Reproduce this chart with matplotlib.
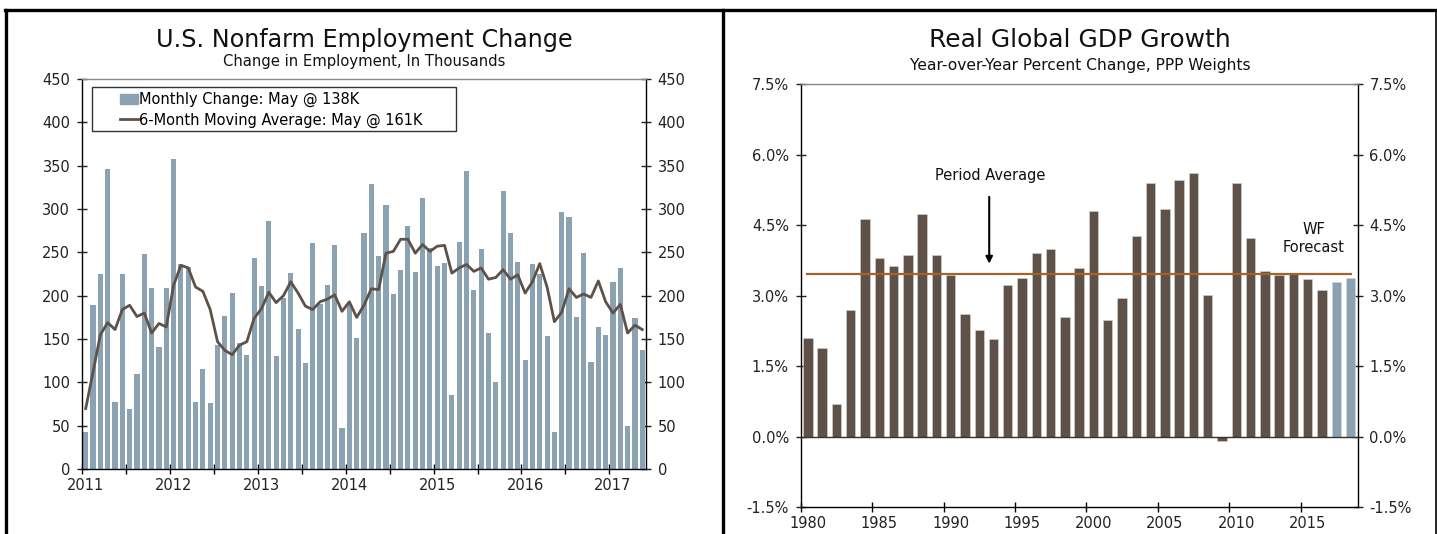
import matplotlib.pyplot as plt
from matplotlib.lines import Line2D
from matplotlib.patches import Rectangle, Patch
import numpy as np

# Monthly nonfarm payroll change, Jan 2011 - May 2017 (thousands)
payroll_change = [43, 189, 225, 346, 77, 225, 69, 110, 248, 209, 141, 209,
                  358, 237, 233, 78, 115, 76, 143, 177, 203, 146, 132, 244,
                  211, 286, 130, 197, 226, 162, 122, 261, 190, 212, 258, 47,
                  190, 151, 272, 329, 246, 304, 202, 230, 280, 227, 312, 255,
                  234, 238, 86, 262, 344, 206, 254, 157, 100, 321, 272, 239,
                  126, 237, 225, 153, 43, 297, 291, 176, 249, 124, 164, 155,
                  216, 232, 50, 174, 138]
payroll_6m_avg = [70, 112, 155, 169, 161, 184, 189, 176, 180, 157, 168, 164,
                  212, 235, 232, 210, 205, 184, 147, 137, 132, 143, 147, 174,
                  185, 204, 192, 200, 216, 203, 188, 184, 193, 196, 201, 182,
                  193, 175, 189, 208, 207, 249, 251, 265, 265, 249, 259, 251,
                  257, 258, 226, 232, 236, 228, 232, 219, 221, 230, 219, 224,
                  203, 216, 237, 210, 170, 181, 208, 198, 202, 198, 217, 193,
                  180, 190, 157, 166, 161]
payroll_years = ["2011", "2012", "2013", "2014", "2015", "2016", "2017"]

# Real global GDP growth, 1980 - 2018 (%), last two years are forecasts
gdp_years = list(range(1980, 2019))
gdp_growth = [2.11, 1.88, 0.69, 2.69, 4.64, 3.81, 3.64, 3.86, 4.74, 3.86,
              3.43, 2.62, 2.28, 2.07, 3.23, 3.38, 3.91, 4.00, 2.54, 3.59,
              4.81, 2.48, 2.96, 4.27, 5.40, 4.85, 5.45, 5.60, 3.01, -0.09,
              5.39, 4.22, 3.52, 3.43, 3.49, 3.35, 3.12, 3.29, 3.37]
gdp_forecast_from = 2017
period_average = 3.47

BLUE = "#8ba2b2"
BROWN = "#5e5248"
AVG_LINE = "#a5632b"
GRID_TOP = "#888888"

plt.rcParams["font.family"] = "DejaVu Sans"
plt.rcParams["font.size"] = 10.5

fig = plt.figure(figsize=(14.37, 5.34), dpi=100)


def style_axes(ax):
    for side in ("left", "right", "bottom"):
        ax.spines[side].set_color("black")
        ax.spines[side].set_linewidth(1.0)
    ax.spines["top"].set_color(GRID_TOP)
    ax.spines["top"].set_linewidth(1.0)
    ax.tick_params(axis="y", which="both", direction="inout", length=7,
                   width=1, left=True, right=True, labelleft=True,
                   labelright=True, pad=5, labelsize=10.5, colors="#222222")
    ax.tick_params(axis="x", which="major", direction="inout", length=7,
                   width=1, labelbottom=False)
    ax.tick_params(axis="x", which="minor", length=0, pad=6,
                   labelsize=10.5, colors="#222222")


# ---- left panel: payrolls ----
ax1 = fig.add_axes([0.0571, 0.1212, 0.3924, 0.7314])
n = len(payroll_change)
x = np.arange(n) + 0.5
ax1.bar(x, payroll_change, width=0.7, color=BLUE, linewidth=0, zorder=2)
ax1.plot(x, payroll_6m_avg, color=BROWN, lw=2.0, zorder=3)
ax1.set_xlim(0, n)
ax1.set_ylim(0, 450)
ax1.set_yticks(np.arange(0, 451, 50))
ax1.set_xticks(np.arange(0, n, 6))
ax1.set_xticks(np.arange(len(payroll_years)) * 12 + 0.5, minor=True)
ax1.set_xticklabels(payroll_years, minor=True)
style_axes(ax1)

ax1.add_patch(Rectangle((0.0177, 0.866), 0.645, 0.1127, transform=ax1.transAxes,
                        fill=True, facecolor="white", edgecolor="#333333",
                        lw=1.0, zorder=4))
handles = [Patch(color=BLUE), Line2D([], [], color=BROWN, lw=2.0)]
labels = ["Monthly Change: May @ 138K", "6-Month Moving Average: May @ 161K"]
ax1.legend(handles, labels, loc="upper left", bbox_to_anchor=(0.068, 0.966),
           frameon=False, borderpad=0, borderaxespad=0, handlelength=1.2,
           handletextpad=0.1, labelspacing=0.36, fontsize=10.5).set_zorder(5)

fig.text(0.2533, 0.925, "U.S. Nonfarm Employment Change", ha="center",
         va="center", fontsize=17.2, color="#111111")
fig.text(0.2533, 0.884, "Change in Employment, In Thousands", ha="center",
         va="center", fontsize=10.6, color="#111111")

# ---- right panel: global GDP ----
ax2 = fig.add_axes([0.5572, 0.05, 0.3876, 0.7927])
colors = [BLUE if yr >= gdp_forecast_from else BROWN for yr in gdp_years]
ax2.bar(np.array(gdp_years) + 0.5, gdp_growth, width=0.66, color=colors,
        edgecolor="#d9d4cf", linewidth=0.4, zorder=2)
ax2.axhline(0, color="#333333", lw=1.0, zorder=3)
ax2.hlines(period_average, gdp_years[0] + 0.4, gdp_years[-1] + 0.6,
           color=AVG_LINE, lw=1.6, zorder=4)
ax2.set_xlim(gdp_years[0], gdp_years[-1] + 1)
ax2.set_ylim(-1.5, 7.5)
ax2.set_yticks(np.arange(-1.5, 7.6, 1.5))
ax2.set_yticklabels([f"{v:.1f}%" for v in np.arange(-1.5, 7.6, 1.5)])
ax2.set_xticks(np.arange(1980, 2016, 5))
ax2.set_xticks(np.arange(1980, 2016, 5) + 0.5, minor=True)
ax2.set_xticklabels([str(v) for v in range(1980, 2016, 5)], minor=True)
style_axes(ax2)

ax2.text(1993.3, 5.56, "Period Average", ha="center", va="center",
         fontsize=10.5, color="#111111")
ax2.annotate("", xy=(1993.2, 3.68), xytext=(1993.2, 5.1),
             arrowprops=dict(arrowstyle="-|>", color="black", lw=1.5,
                             mutation_scale=10, shrinkA=0, shrinkB=0))
ax2.text(2015.9, 4.22, "WF\nForecast", ha="center", va="center",
         fontsize=10.5, color="#111111", linespacing=1.25)

fig.text(0.7516, 0.925, "Real Global GDP Growth", ha="center",
         va="center", fontsize=18, color="#111111")
fig.text(0.7516, 0.877, "Year-over-Year Percent Change, PPP Weights",
         ha="center", va="center", fontsize=11.2, color="#111111")

# panel frame lines
fig.add_artist(Line2D([0.0035, 1.0], [0.982, 0.982], color="black", lw=2.4))
fig.add_artist(Line2D([0.0045, 0.0045], [0.0, 0.982], color="black", lw=2.4))
fig.add_artist(Line2D([0.5028, 0.5028], [0.0, 0.982], color="black", lw=2.4))
fig.add_artist(Line2D([0.999, 0.999], [0.0, 0.982], color="black", lw=1.2))

fig.savefig("out.png", dpi=100)
